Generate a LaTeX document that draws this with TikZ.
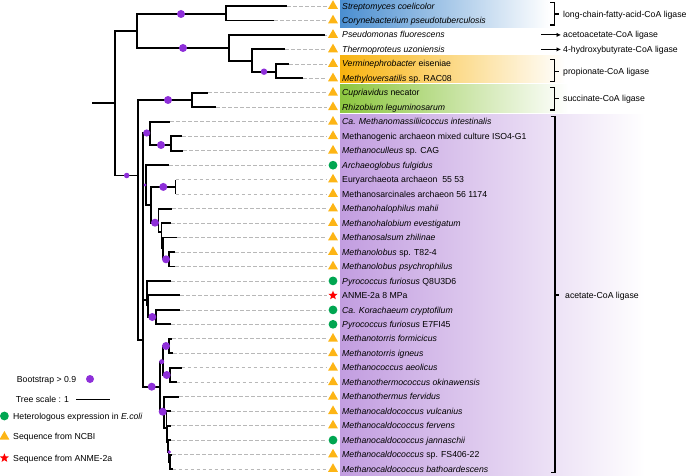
\documentclass[tikz,border=0pt]{standalone}
\usepackage{fontspec}
\setmainfont{Liberation Sans}
\definecolor{bsviolet}{HTML}{8E2FD9}
\definecolor{ncbiamber}{HTML}{FDB515}
\definecolor{exgreen}{HTML}{00A651}
\definecolor{bandblue}{HTML}{4A8ED0}
\definecolor{bandorange}{HTML}{F8B30E}
\definecolor{bandgreen}{HTML}{8CC63F}
\definecolor{bandpurple}{HTML}{C29DE0}
\usetikzlibrary{arrows.meta,positioning,shapes.geometric}

\begin{document}
\begin{tikzpicture}[x=1pt,y=-1pt,
  twig/.style={line width=1.9pt},
  dsh/.style={draw=black!28,line width=0.75pt,dash pattern=on 3.5pt off 2.5pt,shorten >=2.5pt},
  boot/.style={circle,fill=bsviolet,inner sep=0pt,minimum size=8pt},
  ncbi/.style={regular polygon,regular polygon sides=3,fill=ncbiamber,inner sep=0pt,minimum size=11.5pt},
  expr/.style={circle,fill=exgreen,inner sep=0pt,minimum size=8.8pt},
  anme/.style={star,star points=5,star point ratio=2.3,fill=red,inner sep=0pt,minimum size=9.5pt},
  txt/.style={anchor=west,inner sep=0pt,text height=6.2pt,text depth=0pt,font=\fontsize{8.7}{10}\selectfont},
  brk/.style={line width=1.1pt},
  arr/.style={-{Latex[length=4.5pt,width=4.5pt]},line width=1.1pt,shorten >=2pt}]
\useasboundingbox (0,0) rectangle (688,476);

% coloured bands behind the names
\shade[left color=bandblue,right color=white] (340,0) rectangle (550,27.5);
\shade[left color=bandorange,right color=white] (340,55.5) rectangle (565,83);
\shade[left color=bandgreen,right color=white] (340,85) rectangle (568,113);
\shade[left color=bandpurple,right color=white] (340,115) rectangle (645,476);

% inner nodes of the tree
\coordinate (rs) at (92,103);
\coordinate (r0) at (115,103);
\coordinate (u1) at (137,30.7);
\coordinate (cb) at (226,14);
\coordinate (u2) at (229,48);
\coordinate (u3) at (252,61);
\coordinate (u4) at (276,71.7);
\coordinate (ca) at (138,175.5);
\coordinate (cs) at (192,100);
\coordinate (cr) at (143,340);
\coordinate (cc) at (150,133);
\coordinate (c1011) at (171,145);
\coordinate (cd) at (146,185);
\coordinate (ce) at (151,205);
\coordinate (c1314) at (175.5,186.9);
\coordinate (cg) at (158.5,222.7);
\coordinate (ch) at (161.5,232);
\coordinate (ci) at (163,248);
\coordinate (cj) at (169,259.3);
\coordinate (cf) at (146.7,300);
\coordinate (cf2) at (148,305);
\coordinate (cf3) at (156,317);
\coordinate (cm) at (160,386.7);
\coordinate (cp) at (163,361.7);
\coordinate (cq) at (169.3,346);
\coordinate (ck) at (170,375);
\coordinate (ct) at (164,411.7);
\coordinate (cu) at (166.5,428);
\coordinate (cv) at (167.5,442);
\coordinate (cw) at (168.5,452);
\coordinate (cx) at (170,462);

% tips
\coordinate (l1) at (287,6);
\coordinate (l2) at (274,20.5);
\coordinate (l3) at (325,34.9);
\coordinate (l4) at (285,49.4);
\coordinate (l5) at (289,63.9);
\coordinate (l6) at (303,78.4);
\coordinate (l7) at (208,92.8);
\coordinate (l8) at (216,107.3);
\coordinate (l9) at (170,121.8);
\coordinate (l10) at (182,136.2);
\coordinate (l11) at (183,150.7);
\coordinate (l12) at (169,165.2);
\coordinate (l13) at (175.5,179.6);
\coordinate (l14) at (175.5,194.1);
\coordinate (l15) at (172,208.6);
\coordinate (l16) at (171,223.1);
\coordinate (l17) at (177,237.5);
\coordinate (l18) at (175,252);
\coordinate (l19) at (175,266.5);
\coordinate (l20) at (171,280.9);
\coordinate (l21) at (180,295.4);
\coordinate (l22) at (180,309.9);
\coordinate (l23) at (171,324.3);
\coordinate (l24) at (172,338.8);
\coordinate (l25) at (173.3,353.3);
\coordinate (l26) at (181.7,367.8);
\coordinate (l27) at (176.7,382.2);
\coordinate (l28) at (179,396.7);
\coordinate (l29) at (171,411.2);
\coordinate (l30) at (171,425.6);
\coordinate (l31) at (171,440.1);
\coordinate (l32) at (172,454.6);
\coordinate (l33) at (172.5,469);

% markers
\node[ncbi] (m1) at (333,6) {};
\node[ncbi] (m2) at (333,20.5) {};
\node[ncbi] (m3) at (333,34.9) {};
\node[ncbi] (m4) at (333,49.4) {};
\node[ncbi] (m5) at (333,63.9) {};
\node[ncbi] (m6) at (333,78.4) {};
\node[ncbi] (m7) at (333,92.8) {};
\node[ncbi] (m8) at (333,107.3) {};
\node[ncbi] (m9) at (333,121.8) {};
\node[ncbi] (m10) at (333,136.2) {};
\node[ncbi] (m11) at (333,150.7) {};
\node[expr] (m12) at (333,165.2) {};
\node[ncbi] (m13) at (333,179.6) {};
\node[ncbi] (m14) at (333,194.1) {};
\node[ncbi] (m15) at (333,208.6) {};
\node[ncbi] (m16) at (333,223.1) {};
\node[ncbi] (m17) at (333,237.5) {};
\node[ncbi] (m18) at (333,252) {};
\node[ncbi] (m19) at (333,266.5) {};
\node[expr] (m20) at (333,280.9) {};
\node[anme] (m21) at (333,295.4) {};
\node[expr] (m22) at (333,309.9) {};
\node[expr] (m23) at (333,324.3) {};
\node[ncbi] (m24) at (333,338.8) {};
\node[ncbi] (m25) at (333,353.3) {};
\node[ncbi] (m26) at (333,367.8) {};
\node[ncbi] (m27) at (333,382.2) {};
\node[ncbi] (m28) at (333,396.7) {};
\node[ncbi] (m29) at (333,411.2) {};
\node[ncbi] (m30) at (333,425.6) {};
\node[expr] (m31) at (333,440.1) {};
\node[ncbi] (m32) at (333,454.6) {};
\node[ncbi] (m33) at (333,469) {};

% dashed guides
\foreach \i in {1,...,33} \draw[dsh] (l\i) -- (m\i);

% branches
\draw[twig] (rs) -- (r0);
\draw[twig] (r0) |- (u1) (r0) |- (ca);
\draw[twig] (u1) |- (cb) (u1) |- (u2);
\draw[twig] (cb) |- (l1) (cb) |- (l2);
\draw[twig] (u2) |- (l3) (u2) |- (u3);
\draw[twig] (u3) |- (l4) (u3) |- (u4);
\draw[twig] (u4) |- (l5) (u4) |- (l6);
\draw[twig] (ca) |- (cs) (ca) |- (cr);
\draw[twig] (cs) |- (l7) (cs) |- (l8);
\draw[twig] (cr) |- (cc) (cr) |- (cd) (cr) |- (cf) (cr) |- (cm);
\draw[twig] (cc) |- (l9) (cc) |- (c1011);
\draw[twig] (c1011) |- (l10) (c1011) |- (l11);
\draw[twig] (cd) |- (l12) (cd) |- (ce);
\draw[twig] (ce) |- (c1314) (ce) |- (cg);
\draw[twig] (c1314) |- (l13) (c1314) |- (l14);
\draw[twig] (cg) |- (l15) (cg) |- (ch);
\draw[twig] (ch) |- (l16) (ch) |- (ci);
\draw[twig] (ci) |- (l17) (ci) |- (cj);
\draw[twig] (cj) |- (l18) (cj) |- (l19);
\draw[twig] (cf) |- (l20) (cf) |- (cf2);
\draw[twig] (cf2) |- (l21) (cf2) |- (cf3);
\draw[twig] (cf3) |- (l22) (cf3) |- (l23);
\draw[twig] (cm) |- (cp) (cm) |- (ct);
\draw[twig] (cp) |- (cq) (cp) |- (ck);
\draw[twig] (cq) |- (l24) (cq) |- (l25);
\draw[twig] (ck) |- (l26) (ck) |- (l27);
\draw[twig] (ct) |- (l28) (ct) |- (cu);
\draw[twig] (cu) |- (l29) (cu) |- (cv);
\draw[twig] (cv) |- (l30) (cv) |- (cw);
\draw[twig] (cw) |- (l31) (cw) |- (cx);
\draw[twig] (cx) |- (l32) (cx) |- (l33);

% bootstrap support
\node[boot] (b1) at (181,14) {};
\node[boot] (b2) at (183,48) {};
\node[boot,minimum size=6.5pt] (b3) at (264,71.7) {};
\node[boot] (b4) at (168,100) {};
\node[boot,minimum size=5.5pt] (b5) at (126.7,175.5) {};
\node[boot,minimum size=7.2pt] (b6) at (146.7,133) {};
\node[boot] (b7) at (161,145) {};
\node[boot,minimum size=3.2pt] (b8) at (145,185) {};
\node[boot] (b9) at (163.3,186.9) {};
\node[boot] (b10) at (155,222.7) {};
\node[boot] (b11) at (166,259.3) {};
\node[boot] (b12) at (152.3,317) {};
\node[boot] (b13) at (151.7,386.7) {};
\node[boot] (b14) at (166,346) {};
\node[boot,minimum size=5pt] (b15) at (161.7,361.7) {};
\node[boot] (b16) at (166.7,375) {};
\node[boot] (b17) at (162.7,411.7) {};
\node[boot,minimum size=3.8pt] (b18) at (169.3,452) {};

% names
\node[txt] (t1) at (342,6) {\textit{Streptomyces coelicolor}};
\node[txt] (t2) at (342,20.5) {\textit{Corynebacterium pseudotuberculosis}};
\node[txt] (t3) at (342,34.9) {\textit{Pseudomonas fluorescens}};
\node[txt] (t4) at (342,49.4) {\textit{Thermoproteus uzoniensis}};
\node[txt] (t5) at (342,63.9) {\textit{Verminephrobacter} eiseniae};
\node[txt] (t6) at (342,78.4) {\textit{Methyloversatilis} sp. RAC08};
\node[txt] (t7) at (342,92.8) {\textit{Cupriavidus} necator};
\node[txt] (t8) at (342,107.3) {\textit{Rhizobium leguminosarum}};
\node[txt] (t9) at (342,121.8) {\textit{Ca. Methanomassiliicoccus intestinalis}};
\node[txt] (t10) at (342,136.2) {Methanogenic archaeon mixed culture ISO4-G1};
\node[txt] (t11) at (342,150.7) {\textit{Methanoculleus} sp. CAG};
\node[txt] (t12) at (342,165.2) {\textit{Archaeoglobus fulgidus}};
\node[txt] (t13) at (342,179.6) {Euryarchaeota archaeon\ \ 55 53};
\node[txt] (t14) at (342,194.1) {Methanosarcinales archaeon 56 1174};
\node[txt] (t15) at (342,208.6) {\textit{Methanohalophilus mahii}};
\node[txt] (t16) at (342,223.1) {\textit{Methanohalobium evestigatum}};
\node[txt] (t17) at (342,237.5) {\textit{Methanosalsum zhilinae}};
\node[txt] (t18) at (342,252) {\textit{Methanolobus} sp. T82-4};
\node[txt] (t19) at (342,266.5) {\textit{Methanolobus psychrophilus}};
\node[txt] (t20) at (342,280.9) {\textit{Pyrococcus furiosus} Q8U3D6};
\node[txt] (t21) at (342,295.4) {ANME-2a 8 MPa};
\node[txt] (t22) at (342,309.9) {\textit{Ca. Korachaeum cryptofilum}};
\node[txt] (t23) at (342,324.3) {\textit{Pyrococcus furiosus} E7FI45};
\node[txt] (t24) at (342,338.8) {\textit{Methanotorris formicicus}};
\node[txt] (t25) at (342,353.3) {\textit{Methanotorris igneus}};
\node[txt] (t26) at (342,367.8) {\textit{Methanococcus aeolicus}};
\node[txt] (t27) at (342,382.2) {\textit{Methanothermococcus okinawensis}};
\node[txt] (t28) at (342,396.7) {\textit{Methanothermus fervidus}};
\node[txt] (t29) at (342,411.2) {\textit{Methanocaldococcus vulcanius}};
\node[txt] (t30) at (342,425.6) {\textit{Methanocaldococcus fervens}};
\node[txt] (t31) at (342,440.1) {\textit{Methanocaldococcus jannaschii}};
\node[txt] (t32) at (342,454.6) {\textit{Methanocaldococcus} sp. FS406-22};
\node[txt] (t33) at (342,469) {\textit{Methanocaldococcus bathoardescens}};

% enzyme families
\node[txt] (lcfa) at (563,14) {long-chain-fatty-acid-CoA ligase};
\node[txt] (aceto) at (563,34.9) {acetoacetate-CoA ligase};
\node[txt] (hbut) at (563,49.4) {4-hydroxybutyrate-CoA ligase};
\node[txt] (prop) at (563,71.2) {propionate-CoA ligase};
\node[txt] (succ) at (563,98.7) {succinate-CoA ligase};
\node[txt] (acet) at (565,295) {acetate-CoA ligase};
\coordinate (a3) at (541,34.9);
\coordinate (a4) at (541,49.4);
\draw[arr] (a3) -- (aceto);
\draw[arr] (a4) -- (hbut);
\draw[brk] (550,2.5) -- (554.5,2.5) -- (554.5,25) -- (550,25) (554.5,14) -- (558.5,14);
\draw[brk] (550,59.3) -- (554.5,59.3) -- (554.5,81.7) -- (550,81.7) (554.5,71.2) -- (558.5,71.2);
\draw[brk] (550,87.3) -- (554.5,87.3) -- (554.5,110) -- (550,110) (554.5,98.7) -- (558.5,98.7);
\draw[brk] (550.5,116.7) -- (555,116.7) -- (555,472.5) -- (550.5,472.5) (555,295) -- (559,295);

% legend
\node[txt] (kbt) at (16.7,379) {Bootstrap > 0.9};
\node[boot] (kb) at (90,379) {};
\node[txt] (kst) at (15.7,399) {Tree scale : 1};
\coordinate (sc1) at (76,399);
\coordinate (sc2) at (110,399);
\draw[line width=1pt] (sc1) -- (sc2);
\node[expr] (ke) at (4.4,416) {};
\node[txt] (ket) at (13,416) {Heterologous expression in \textit{E.coli}};
\node[ncbi] (kn) at (4.4,436.7) {};
\node[txt] (knt) at (13,436.7) {Sequence from NCBI};
\node[anme] (ka) at (4.4,458) {};
\node[txt] (kat) at (13,458) {Sequence from ANME-2a};
\end{tikzpicture}
\end{document}
